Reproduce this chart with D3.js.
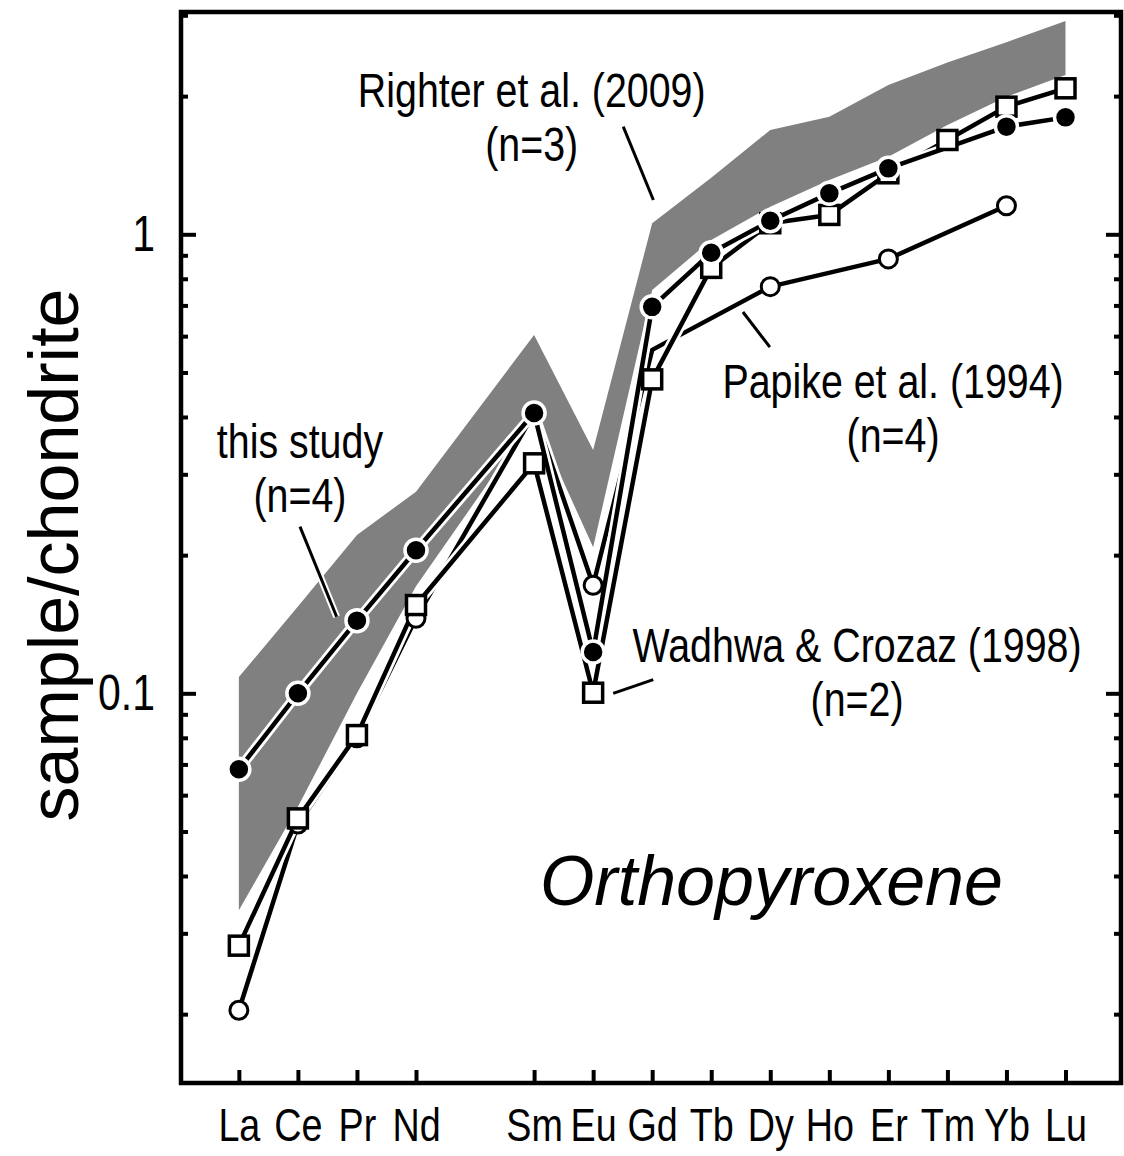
<!DOCTYPE html>
<html>
<head>
<meta charset="utf-8">
<script src="https://cdn.jsdelivr.net/npm/d3@7"></script>
<style>
  body { margin: 0; background: #fff; }
</style>
</head>
<body>
<div id="chart"></div>
<script>
// REE order (Pm has no data and no tick)
const elements = ["La","Ce","Pr","Nd","Pm","Sm","Eu","Gd","Tb","Dy","Ho","Er","Tm","Yb","Lu"];
const tickElements = ["La","Ce","Pr","Nd","Sm","Eu","Gd","Tb","Dy","Ho","Er","Tm","Yb","Lu"];

// Righter et al. (2009) range (grey band)
const righterMax = [0.1085, 0.1545, 0.2213, 0.2749, null, 0.6035, 0.339, 1.057, 1.328, 1.687, 1.804, 2.115, 2.367, 2.62, 2.916];
const righterMin = [0.0337, 0.0566, 0.100, 0.171, null, 0.400, 0.208, 0.756, 0.972, 1.148, 1.313, 1.476, 1.73, 1.994, 2.224];

// this study (filled circles)
const thisStudy = [0.0683, 0.100, 0.144, 0.205, null, 0.408, 0.123, 0.695, 0.912, 1.070, 1.228, 1.392, null, 1.716, 1.798];
// Wadhwa & Crozaz (1998) (open squares)
const wadhwa = [0.0282, 0.0534, 0.0811, 0.1557, null, 0.317, 0.1003, 0.483, 0.845, 1.057, 1.102, 1.358, 1.605, 1.897, 2.080];
// Papike et al. (1994) (open circles)
const papike = [0.0204, 0.0519, 0.080, 0.1457, null, 0.408, 0.172, 0.560, null, 0.769, null, 0.884, null, 1.154, null];
const papikeNoMarker = ["Gd"];

const majorTicks = [0.1, 1];
const minorTicks = [0.02,0.03,0.04,0.05,0.06,0.07,0.08,0.09,0.2,0.3,0.4,0.5,0.6,0.7,0.8,0.9,2,3];

// labels: [text, element index, value] (data coordinates)
const labels = [
  ["Righter et al. (2009)", 4.96, 1.894],
  ["(n=3)", 4.96, 1.444],
  ["this study", 1.035, 0.3256],
  ["(n=4)", 1.035, 0.2483],
  ["Papike et al. (1994)", 11.08, 0.4398],
  ["(n=4)", 11.08, 0.3355],
  ["Wadhwa & Crozaz (1998)", 10.47, 0.1170],
  ["(n=2)", 10.47, 0.0892]
];
// leader lines: [i1, v1, i2, v2]
const leaders = [
  [6.51, 1.716, 7.02, 1.188],
  [1.035, 0.2307, 1.656, 0.1468],
  [8.537, 0.6772, 8.993, 0.568],
  [6.34, 0.100, 7.018, 0.1071]
];

const width = 1124, height = 1156;
const margin = {left: 181, right: 1121, top: 12, bottom: 1083};

const svg = d3.select("#chart").append("svg")
  .attr("width", width).attr("height", height);

const x = d3.scaleLinear().domain([-0.98, 14.94]).range([margin.left, margin.right]);
const y = d3.scaleLog().domain([0.01416, 3.05]).range([margin.bottom, margin.top]);

const narrow = "'Liberation Sans Narrow', 'Arial Narrow', sans-serif";

// grey band
const band = elements.map((e, i) => ({i: i, lo: righterMin[i], hi: righterMax[i]}))
  .filter(d => d.lo != null);
svg.append("path")
  .datum(band)
  .attr("d", d3.area().x(d => x(d.i)).y0(d => y(d.lo)).y1(d => y(d.hi)))
  .attr("fill", "#808080");

// leader lines
const lg = svg.append("g");
leaders.forEach(function(l) {
  lg.append("line").attr("x1", x(l[0])).attr("y1", y(l[1])).attr("x2", x(l[2])).attr("y2", y(l[3]))
    .attr("stroke", "#fff").attr("stroke-width", 7);
  lg.append("line").attr("x1", x(l[0])).attr("y1", y(l[1])).attr("x2", x(l[2])).attr("y2", y(l[3]))
    .attr("stroke", "#000").attr("stroke-width", 3);
});

const line = d3.line().x(d => x(d.i)).y(d => y(d.v));
const lineLayer = svg.append("g");
const markerLayer = svg.append("g");

function drawSeries(values, marker, skip) {
  const pts = values.map((v, i) => ({i: i, v: v, el: elements[i]})).filter(d => d.v != null);
  const lgp = lineLayer.append("g");
  lgp.append("path").datum(pts).attr("d", line)
    .attr("fill", "none").attr("stroke", "#fff").attr("stroke-width", 10).attr("stroke-linejoin", "round");
  lgp.append("path").datum(pts).attr("d", line)
    .attr("fill", "none").attr("stroke", "#000").attr("stroke-width", 4.5).attr("stroke-linejoin", "round");
  const mp = pts.filter(d => !(skip || []).includes(d.el));
  const g = markerLayer.append("g");
  if (marker === "filled") {
    g.selectAll("circle").data(mp).enter().append("circle")
      .attr("cx", d => x(d.i)).attr("cy", d => y(d.v)).attr("r", 11)
      .attr("fill", "#000").attr("stroke", "#fff").attr("stroke-width", 3.5);
  } else if (marker === "open") {
    g.selectAll("circle").data(mp).enter().append("circle")
      .attr("cx", d => x(d.i)).attr("cy", d => y(d.v)).attr("r", 9)
      .attr("fill", "#fff").attr("stroke", "#000").attr("stroke-width", 3);
  } else {
    g.selectAll("rect").data(mp).enter().append("rect")
      .attr("x", d => x(d.i) - 9.5).attr("y", d => y(d.v) - 9.5)
      .attr("width", 19).attr("height", 19)
      .attr("fill", "#fff").attr("stroke", "#000").attr("stroke-width", 3.5);
  }
}

drawSeries(papike, "open", papikeNoMarker);
drawSeries(wadhwa, "square");
drawSeries(thisStudy, "filled");

// annotation text
svg.append("g").selectAll("text").data(labels).enter().append("text")
  .attr("class", "narrow")
  .attr("x", d => x(d[1])).attr("y", d => y(d[2]))
  .attr("text-anchor", "middle")
  .style("font-family", narrow).style("font-size", "48px")
  .text(d => d[0]);

svg.append("text")
  .attr("x", x(9.02)).attr("y", y(0.0346))
  .attr("text-anchor", "middle")
  .style("font-family", "'Liberation Sans', Arial, sans-serif")
  .style("font-style", "italic").style("font-size", "70px")
  .text("Orthopyroxene");

// axes
function styleAxis(g, size) {
  g.select(".domain").remove();
  g.selectAll(".tick line").attr("stroke", "#000").attr("stroke-width", 4);
  g.selectAll(".tick text").attr("class", "narrow").attr("fill", "#000")
    .style("font-family", narrow).style("font-size", (size || 48) + "px");
}

svg.append("g").attr("transform", `translate(${margin.left},0)`)
  .call(d3.axisLeft(y).tickValues(majorTicks).tickSize(-15).tickPadding(26).tickFormat(d3.format("")))
  .call(styleAxis, 50);
svg.append("g").attr("transform", `translate(${margin.left},0)`)
  .call(d3.axisLeft(y).tickValues(minorTicks).tickSize(-7).tickFormat(""))
  .call(styleAxis);
svg.append("g").attr("transform", `translate(${margin.right},0)`)
  .call(d3.axisRight(y).tickValues(majorTicks).tickSize(-15).tickFormat(""))
  .call(styleAxis);
svg.append("g").attr("transform", `translate(${margin.right},0)`)
  .call(d3.axisRight(y).tickValues(minorTicks).tickSize(-7).tickFormat(""))
  .call(styleAxis);
svg.append("g").attr("transform", `translate(0,${margin.bottom})`)
  .call(d3.axisBottom(x).tickValues(tickElements.map(e => elements.indexOf(e)))
    .tickSize(-13).tickPadding(25).tickFormat(i => elements[i]))
  .call(styleAxis, 46);

// frame
svg.append("rect")
  .attr("x", margin.left).attr("y", margin.top)
  .attr("width", margin.right - margin.left).attr("height", margin.bottom - margin.top)
  .attr("fill", "none").attr("stroke", "#000").attr("stroke-width", 4.5);

// y title
svg.append("text")
  .attr("transform", `translate(78,555) rotate(-90)`)
  .attr("text-anchor", "middle")
  .style("font-family", "'Liberation Sans', Arial, sans-serif").style("font-size", "70px")
  .text("sample/chondrite");

// if no narrow face is installed, squeeze the regular face horizontally
(function() {
  const t1 = svg.append("text").style("font-family", "'Liberation Sans Narrow'").style("font-size", "48px").text("Righter et al.");
  const t2 = svg.append("text").style("font-family", "'Liberation Sans'").style("font-size", "48px").text("Righter et al.");
  const ratio = t1.node().getComputedTextLength() / t2.node().getComputedTextLength();
  t1.remove(); t2.remove();
  if (ratio > 0.9) {
    svg.selectAll("text.narrow").each(function() {
      const el = d3.select(this);
      const x0 = +el.attr("x") || 0;
      el.attr("transform", `translate(${x0},0) scale(0.82,1) translate(${-x0},0)`);
    });
  }
})();
</script>
</body>
</html>
